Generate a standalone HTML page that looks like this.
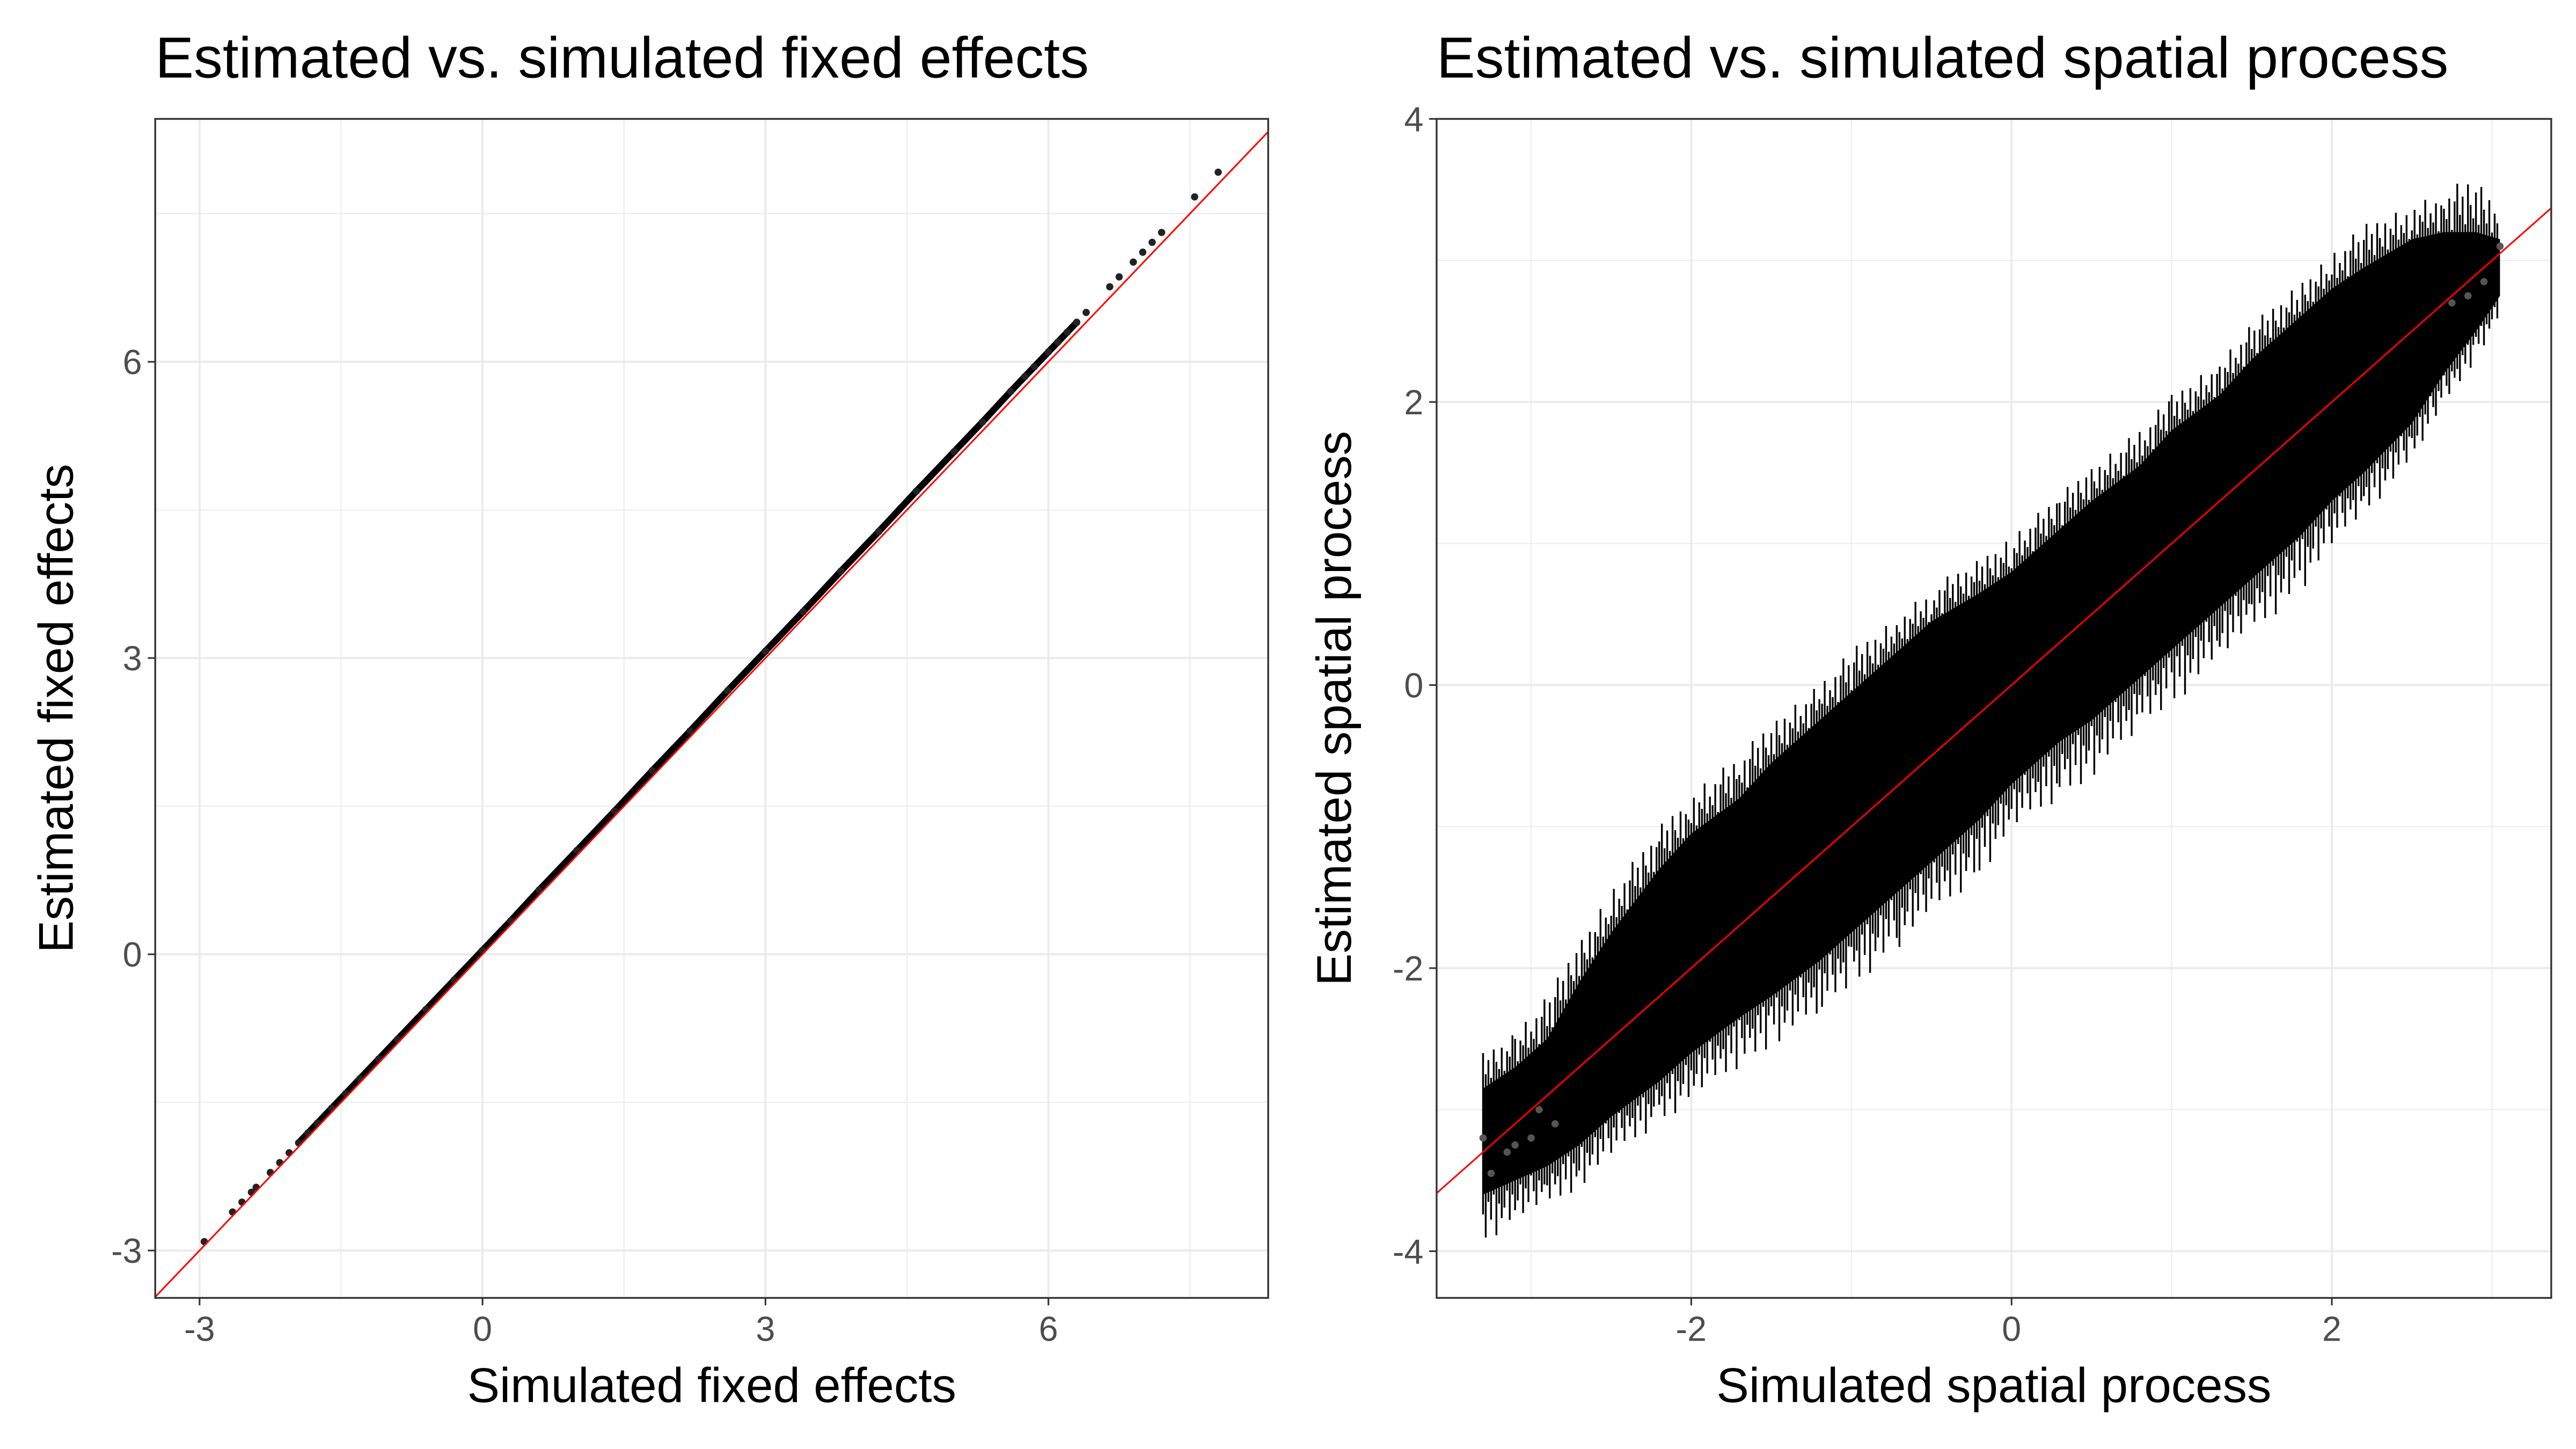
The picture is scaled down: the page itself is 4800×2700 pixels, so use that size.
<!DOCTYPE html>
<html><head><meta charset="utf-8"><style>
html,body{margin:0;padding:0;background:#fff;}
svg{display:block;font-family:"Liberation Sans",Arial,sans-serif;}
</style></head><body>
<svg id="c" width="4800" height="2700" viewBox="0 0 1560 877.5" xmlns="http://www.w3.org/2000/svg">
<rect width="1560" height="877.5" fill="#fff"/>
<g id="left"></g>
<g id="right"></g>
</svg>
<script>
// Left panel data
const fxTicks = [-3, 0, 3, 6];
const fxMinor = [-1.5, 1.5, 4.5, 7.5];
const fySim = [-2.95,-2.65,-2.55,-2.45,-2.4,-2.25,-2.15,-2.05,-1.95,-1.85,-1.75,-1.6,-1.45,-1.3,-1.1,-0.9,-0.6,-0.3,0,0.3,0.6,1,1.4,1.8,2.2,2.6,3,3.4,3.8,4.2,4.6,5,5.3,5.6,5.75,5.85,6.0,6.1,6.2,6.3,6.4,6.65,6.75,6.9,7.0,7.1,7.2,7.55,7.8];
const fyEst = [-2.91,-2.61,-2.51,-2.41,-2.36,-2.21,-2.11,-2.01,-1.91,-1.81,-1.71,-1.56,-1.41,-1.26,-1.06,-0.86,-0.56,-0.26,0.04,0.34,0.65,1.05,1.45,1.86,2.26,2.67,3.07,3.47,3.88,4.28,4.69,5.09,5.39,5.7,5.85,5.95,6.1,6.2,6.3,6.4,6.5,6.76,6.86,7.01,7.11,7.21,7.31,7.67,7.92];
// Right panel data
const spTicksX = [-2, 0, 2];
const spMinorX = [-3, -1, 1, 3];
const spTicksY = [-4, -2, 0, 2, 4];
const spMinorY = [-3, -1, 1, 3];
const spX  = [-3.3,-3.1,-2.9,-2.7,-2.5,-2.2,-2.0,-1.7,-1.5,-1.2,-1.0,-0.7,-0.5,-0.2,0,0.3,0.5,0.8,1.0,1.3,1.5,1.8,2.0,2.2,2.5,2.7,2.9,3.05];
const spHi = [-2.6,-2.45,-2.2,-1.8,-1.45,-1.0,-0.75,-0.5,-0.25,0.0,0.25,0.5,0.7,0.9,1.05,1.35,1.55,1.8,2.05,2.3,2.55,2.85,3.05,3.25,3.4,3.5,3.6,3.4];
const spLo = [-3.95,-3.8,-3.7,-3.55,-3.35,-3.1,-2.95,-2.7,-2.55,-2.35,-2.15,-1.85,-1.65,-1.35,-1.05,-0.8,-0.65,-0.35,-0.15,0.15,0.35,0.65,0.95,1.2,1.55,1.95,2.3,2.6];
const spCoreHi = [-2.85,-2.7,-2.5,-2.1,-1.75,-1.3,-1.05,-0.8,-0.55,-0.25,-0.05,0.25,0.45,0.65,0.8,1.1,1.3,1.55,1.8,2.05,2.3,2.6,2.8,2.95,3.15,3.2,3.2,3.15];
const spCoreLo = [-3.6,-3.5,-3.4,-3.25,-3.05,-2.8,-2.6,-2.35,-2.2,-1.95,-1.75,-1.45,-1.25,-0.95,-0.7,-0.4,-0.25,0.05,0.25,0.55,0.75,1.05,1.3,1.5,1.85,2.2,2.5,2.75];
const spPtX = [-3.3,-3.25,-3.15,-3.1,-3.0,-2.95,-2.85,2.75,2.85,2.95,3.05];
const spPtY = [-3.2,-3.45,-3.3,-3.25,-3.2,-3.0,-3.1,2.7,2.75,2.85,3.1];

const NS="http://www.w3.org/2000/svg";
function mk(tag,attrs,parent){const e=document.createElementNS(NS,tag);for(const k in attrs)e.setAttribute(k,attrs[k]);parent.appendChild(e);return e;}
function lin(d0,d1,r0,r1){return v=>r0+(v-d0)*(r1-r0)/(d1-d0);}

function panel(g,id,px0,px1,py0,py1,xd0,xd1,yd0,yd1,xt,xm,yt,ym,title,xl,yl){
  const X=lin(xd0,xd1,px0,px1),Y=lin(yd0,yd1,py1,py0);
  const cp=mk('clipPath',{id:id},g);mk('rect',{x:px0,y:py0,width:px1-px0,height:py1-py0},cp);
  xm.forEach(v=>{const l=mk('line',{x1:X(v),x2:X(v),y1:py0,y2:py1,stroke:'#ebebeb','stroke-width':0.6},g);});
  ym.forEach(v=>{const l=mk('line',{x1:px0,x2:px1,y1:Y(v),y2:Y(v),stroke:'#ebebeb','stroke-width':0.6},g);});
  xt.forEach(v=>{const l=mk('line',{x1:X(v),x2:X(v),y1:py0,y2:py1,stroke:'#ebebeb','stroke-width':1.3},g);
    mk('line',{x1:X(v),x2:X(v),y1:py1,y2:py1+4.5,stroke:'#333','stroke-width':1},g);
    const t=mk('text',{x:X(v),y:py1+26,'text-anchor':'middle','font-size':21,fill:'#4d4d4d'},g);t.textContent=v;});
  yt.forEach(v=>{const l=mk('line',{x1:px0,x2:px1,y1:Y(v),y2:Y(v),stroke:'#ebebeb','stroke-width':1.3},g);
    mk('line',{x1:px0-4.5,x2:px0,y1:Y(v),y2:Y(v),stroke:'#333','stroke-width':1},g);
    const t=mk('text',{x:px0-8,y:Y(v)+7.5,'text-anchor':'end','font-size':21,fill:'#4d4d4d'},g);t.textContent=v;});
  const dg=mk('g',{'clip-path':'url(#'+id+')'},g);
  const t=mk('text',{x:px0,y:47,'font-size':35,fill:'#000'},g);t.textContent=title;
  const a=mk('text',{x:(px0+px1)/2,y:py1+63,'text-anchor':'middle','font-size':29.5,fill:'#000'},g);a.textContent=xl;
  const cy=(py0+py1)/2, cx=px0-(id==='cl'?50:52);
  const b=mk('text',{x:cx,y:cy,'text-anchor':'middle','font-size':29.5,fill:'#000',transform:'rotate(-90 '+cx+' '+cy+')'},g);b.textContent=yl;
  return {X,Y,dg,border:()=>{const r=mk('rect',{x:px0,y:py0,width:px1-px0,height:py1-py0,fill:'none',stroke:'#333','stroke-width':1.1},g);}};
}

// Left
const L=panel(document.getElementById('left'),'cl',94,768,72,786,-3.47,8.33,-3.48,8.46,fxTicks,fxMinor,[-3,0,3,6],[-1.5,1.5,4.5,7.5],'Estimated vs. simulated fixed effects','Simulated fixed effects','Estimated fixed effects');
let dpts=[];fySim.forEach((v,i)=>{if(v>=-2.0&&v<=6.3)dpts.push(L.X(v)+','+L.Y(fyEst[i]));});
const band=mk('polyline',{points:dpts.join(' '),fill:'none',stroke:'#000','stroke-width':4,'stroke-linecap':'round'},L.dg);


fySim.forEach((v,i)=>{const c=mk('circle',{cx:L.X(v),cy:L.Y(fyEst[i]),r:2.2,fill:'#222'},L.dg);

});
const rl=mk('line',{x1:L.X(-4),y1:L.Y(-4),x2:L.X(9),y2:L.Y(9),stroke:'#ff0000','stroke-width':1},L.dg);


L.border();

// Right
const R=panel(document.getElementById('right'),'cr',870,1545,72,786,-3.59,3.37,-4.33,4.0,spTicksX,spMinorX,spTicksY,spMinorY,'Estimated vs. simulated spatial process','Simulated spatial process','Estimated spatial process');
let poly=[];spX.forEach((v,i)=>poly.push(R.X(v)+','+R.Y(spCoreHi[i])));
for(let i=spX.length-1;i>=0;i--)poly.push(R.X(spX[i])+','+R.Y(spCoreLo[i]));
const core=mk('polygon',{points:poly.join(' '),fill:'#000'},R.dg);


const tf=[1,0.35,0.7,0.15,0.9,0.5,0.25,0.8,0.1,0.6,0.4,0.95,0.2,0.55,0.3,0.75,0.05,0.65];
const bf=[0.4,0.9,0.2,0.6,0.1,1,0.35,0.7,0.5,0.15,0.85,0.3,0.65,0.05,0.45,0.8,0.25,0.55];
for(let i=0;i<spX.length-1;i++){
  const n=Math.max(4,Math.round((R.X(spX[i+1])-R.X(spX[i]))/1.6));
  for(let k=0;k<n;k++){
    const f=k/n, x=spX[i]+(spX[i+1]-spX[i])*f;
    const hi=spHi[i]+(spHi[i+1]-spHi[i])*f, lo=spLo[i]+(spLo[i+1]-spLo[i])*f;
    const ch=spCoreHi[i]+(spCoreHi[i+1]-spCoreHi[i])*f, cl=spCoreLo[i]+(spCoreLo[i+1]-spCoreLo[i])*f;
    const j=(i*7+k)%tf.length;
    const top=ch+(hi-ch)*tf[j], bot=cl-(cl-lo)*bf[j];
    const e=mk('line',{x1:R.X(x),x2:R.X(x),y1:R.Y(top),y2:R.Y(bot),stroke:'#000','stroke-width':1.1},R.dg);
    
    
  }
}
spPtX.forEach((v,i)=>{const c=mk('circle',{cx:R.X(v),cy:R.Y(spPtY[i]),r:2.2,fill:'#555'},R.dg);

});
const rl2=mk('line',{x1:R.X(-4),y1:R.Y(-4),x2:R.X(4),y2:R.Y(4),stroke:'#ff0000','stroke-width':1},R.dg);


R.border();
</script>
</body></html>
